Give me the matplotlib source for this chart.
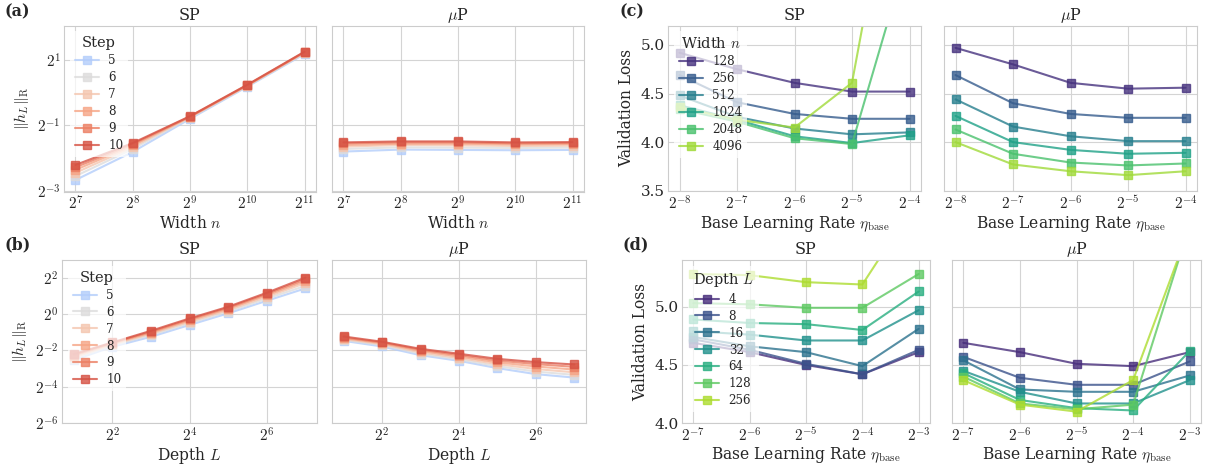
import numpy as np
import matplotlib
matplotlib.use("Agg")
import matplotlib.pyplot as plt
import seaborn as sns
from matplotlib.ticker import NullLocator

# ---------------- data ----------------
steps = [5, 6, 7, 8, 9, 10]
widths_a = [128, 256, 512, 1024, 2048]
depths_b = [2, 4, 8, 16, 32, 64, 128]

# log2 of ||h_L||_R, one row per step (5..10)
a_sp_log2 = [
    [-2.67, -1.81, -0.80, 0.18, 1.18],
    [-2.55, -1.72, -0.77, 0.20, 1.20],
    [-2.45, -1.66, -0.75, 0.21, 1.22],
    [-2.36, -1.61, -0.74, 0.22, 1.23],
    [-2.28, -1.57, -0.73, 0.23, 1.24],
    [-2.21, -1.54, -0.72, 0.24, 1.25],
]
a_mup_log2 = [
    [-1.80, -1.74, -1.75, -1.76, -1.75],
    [-1.72, -1.67, -1.68, -1.69, -1.68],
    [-1.65, -1.60, -1.61, -1.63, -1.62],
    [-1.60, -1.56, -1.56, -1.58, -1.57],
    [-1.55, -1.52, -1.52, -1.55, -1.54],
    [-1.52, -1.49, -1.49, -1.52, -1.51],
]
b_sp_log2 = [
    [-2.53, -1.80, -1.25, -0.60, 0.04, 0.73, 1.41],
    [-2.45, -1.72, -1.15, -0.50, 0.14, 0.85, 1.55],
    [-2.38, -1.67, -1.08, -0.42, 0.22, 0.95, 1.70],
    [-2.30, -1.62, -1.02, -0.35, 0.29, 1.04, 1.81],
    [-2.25, -1.59, -0.97, -0.29, 0.35, 1.11, 1.91],
    [-2.20, -1.56, -0.92, -0.24, 0.40, 1.17, 2.00],
]
b_mup_log2 = [
    [-1.47, -1.78, -2.26, -2.57, -2.97, -3.30, -3.49],
    [-1.42, -1.70, -2.18, -2.49, -2.86, -3.16, -3.34],
    [-1.37, -1.65, -2.10, -2.41, -2.75, -3.02, -3.20],
    [-1.32, -1.60, -2.02, -2.33, -2.65, -2.88, -3.05],
    [-1.28, -1.56, -1.96, -2.25, -2.55, -2.75, -2.90],
    [-1.23, -1.52, -1.91, -2.18, -2.46, -2.64, -2.77],
]

c_widths = [128, 256, 512, 1024, 2048, 4096]
c_lrs = [2**-8, 2**-7, 2**-6, 2**-5, 2**-4]
c_sp_loss = [
    [4.92, 4.75, 4.61, 4.52, 4.52],
    [4.69, 4.41, 4.29, 4.24, 4.24],
    [4.48, 4.26, 4.14, 4.08, 4.10],
    [4.38, 4.23, 4.06, 3.99, 4.07],
    [4.34, 4.21, 4.04, 3.98, 6.00],
    [4.36, 4.23, 4.15, 4.61, 7.80],
]
c_mup_loss = [
    [4.97, 4.80, 4.61, 4.55, 4.56],
    [4.69, 4.40, 4.29, 4.25, 4.25],
    [4.44, 4.16, 4.06, 4.01, 4.01],
    [4.27, 4.00, 3.92, 3.88, 3.89],
    [4.13, 3.88, 3.79, 3.76, 3.78],
    [4.00, 3.77, 3.70, 3.66, 3.70],
]

d_depths = [4, 8, 16, 32, 64, 128, 256]
d_lrs = [2**-7, 2**-6, 2**-5, 2**-4, 2**-3]
d_sp_loss = [
    [4.69, 4.61, 4.50, 4.42, 4.61],
    [4.72, 4.63, 4.51, 4.42, 4.63],
    [4.74, 4.66, 4.61, 4.49, 4.81],
    [4.79, 4.76, 4.71, 4.71, 4.97],
    [4.89, 4.86, 4.85, 4.80, 5.13],
    [5.03, 5.02, 4.99, 4.99, 5.28],
    [5.28, 5.27, 5.21, 5.19, 5.93],
]
d_mup_loss = [
    [4.69, 4.61, 4.51, 4.49, 4.61],
    [4.57, 4.39, 4.33, 4.33, 4.53],
    [4.54, 4.29, 4.27, 4.27, 4.41],
    [4.45, 4.27, 4.17, 4.17, 4.37],
    [4.43, 4.20, 4.13, 4.11, 4.62],
    [4.40, 4.17, 4.12, 4.16, 5.70],
    [4.37, 4.16, 4.10, 4.37, 5.68],
]

a_xticks = [2**7, 2**8, 2**9, 2**10, 2**11]
a_xticklabels = ["$2^{7}$", "$2^{8}$", "$2^{9}$", "$2^{10}$", "$2^{11}$"]
a_yticks = [2**-3, 2**-1, 2**1]
a_yticklabels = ["$2^{-3}$", "$2^{-1}$", "$2^{1}$"]
b_xticks = [2**2, 2**4, 2**6]
b_xticklabels = ["$2^{2}$", "$2^{4}$", "$2^{6}$"]
b_yticks = [2**-6, 2**-4, 2**-2, 2**0, 2**2]
b_yticklabels = ["$2^{-6}$", "$2^{-4}$", "$2^{-2}$", "$2^{0}$", "$2^{2}$"]
c_xticklabels = ["$2^{-8}$", "$2^{-7}$", "$2^{-6}$", "$2^{-5}$", "$2^{-4}$"]
c_yticks = [3.5, 4.0, 4.5, 5.0]
d_xticklabels = ["$2^{-7}$", "$2^{-6}$", "$2^{-5}$", "$2^{-4}$", "$2^{-3}$"]
d_yticks = [4.0, 4.5, 5.0]

# ---------------- style ----------------
sns.set_style("whitegrid")
plt.rcParams.update({
    "font.family": "serif",
    "font.serif": ["DejaVu Serif"],
    "mathtext.fontset": "cm",
    "font.size": 11,
    "axes.titlesize": 11.5,
    "axes.labelsize": 11.2,
    "xtick.labelsize": 11,
    "ytick.labelsize": 11,
    "legend.fontsize": 8.6,
    "legend.title_fontsize": 10.5,
    "axes.edgecolor": "0.8",
    "grid.color": "0.83",
})

step_colors = [plt.cm.coolwarm(p) for p in [0.36, 0.5, 0.62, 0.72, 0.81, 0.9]]
width_colors = sns.color_palette("viridis", 6)
depth_colors = sns.color_palette("viridis", 7)

W, H = 1205, 465
fig = plt.figure(figsize=(W / 100, H / 100), dpi=100)


def px_axes(left, right, top, bottom):
    return fig.add_axes([left / W, 1 - bottom / H, (right - left) / W, (bottom - top) / H])


LW, MS, AL = 1.5, 5.5, 0.8


def draw(ax, x, rows, colors, labels, logx=True):
    for r, c, lab in zip(rows, colors, labels):
        ax.plot(x, r, marker="s", color=c, lw=LW, ms=MS, alpha=AL, label=lab)
    if logx:
        ax.set_xscale("log", base=2)
    ax.xaxis.set_minor_locator(NullLocator())
    ax.tick_params(axis="both", length=0, pad=2.5)


def legend(ax, title):
    lg = ax.legend(title=title, loc="upper left", frameon=True, framealpha=0.7,
                   edgecolor="none", facecolor="white", labelspacing=0.33)
    return lg


# ---- (a) ----
ax = px_axes(64, 316, 25.5, 191.5)
draw(ax, widths_a, [np.exp2(r) for r in a_sp_log2], step_colors, [str(s) for s in steps])
ax.set_yscale("log", base=2)
ax.yaxis.set_minor_locator(NullLocator())
ax.set_ylim(2**-3.02, 2**2.05)
ax.set_xticks(a_xticks, a_xticklabels)
ax.set_yticks(a_yticks, a_yticklabels)
ax.set_title("SP", pad=4)
ax.set_xlabel("Width $n$", labelpad=1)
ax.set_ylabel(r"$\|h_L\|_{\rm R}$")
legend(ax, "Step")

ax = px_axes(332, 584, 25.5, 191.5)
draw(ax, widths_a, [np.exp2(r) for r in a_mup_log2], step_colors, [str(s) for s in steps])
ax.set_yscale("log", base=2)
ax.yaxis.set_minor_locator(NullLocator())
ax.set_ylim(2**-3.02, 2**2.05)
ax.set_xticks(a_xticks, a_xticklabels)
ax.set_yticks(a_yticks, a_yticklabels)
ax.tick_params(labelleft=False)
ax.set_title(r"$\mu$P", pad=4)
ax.set_xlabel("Width $n$", labelpad=1)

# ---- (b) ----
ax = px_axes(62, 317, 260, 423.3)
draw(ax, depths_b, [np.exp2(r) for r in b_sp_log2], step_colors, [str(s) for s in steps])
ax.set_yscale("log", base=2)
ax.yaxis.set_minor_locator(NullLocator())
ax.set_ylim(2**-6, 2**2.97)
ax.set_xticks(b_xticks, b_xticklabels)
ax.set_yticks(b_yticks, b_yticklabels)
ax.set_title("SP", pad=4)
ax.set_xlabel("Depth $L$", labelpad=0)
ax.set_ylabel(r"$\|h_L\|_{\rm R}$")
legend(ax, "Step")

ax = px_axes(332, 586, 260, 423.3)
draw(ax, depths_b, [np.exp2(r) for r in b_mup_log2], step_colors, [str(s) for s in steps])
ax.set_yscale("log", base=2)
ax.yaxis.set_minor_locator(NullLocator())
ax.set_ylim(2**-6, 2**2.97)
ax.set_xticks(b_xticks, b_xticklabels)
ax.set_yticks(b_yticks, b_yticklabels)
ax.tick_params(labelleft=False)
ax.set_title(r"$\mu$P", pad=4)
ax.set_xlabel("Depth $L$", labelpad=0)

# ---- (c) ----
ax = px_axes(668, 921, 25.5, 190.7)
draw(ax, c_lrs, c_sp_loss, width_colors, [str(w) for w in c_widths])
ax.set_ylim(3.5, 5.2)
ax.set_xticks(c_lrs, c_xticklabels)
ax.set_yticks(c_yticks)
ax.set_title("SP", pad=4)
ax.set_xlabel(r"Base Learning Rate $\eta_{\rm base}$", labelpad=1)
ax.set_ylabel("Validation Loss")
legend(ax, "Width $n$")

ax = px_axes(944, 1197, 25.5, 190.7)
draw(ax, c_lrs, c_mup_loss, width_colors, [str(w) for w in c_widths])
ax.set_ylim(3.5, 5.2)
ax.set_xticks(c_lrs, c_xticklabels)
ax.set_yticks(c_yticks)
ax.tick_params(labelleft=False)
ax.set_title(r"$\mu$P", pad=4)
ax.set_xlabel(r"Base Learning Rate $\eta_{\rm base}$", labelpad=1)

# ---- (d) ----
ax = px_axes(682, 930, 260, 423.3)
draw(ax, d_lrs, d_sp_loss, depth_colors, [str(d) for d in d_depths])
ax.set_ylim(4.0, 5.4)
ax.set_xticks(d_lrs, d_xticklabels)
ax.set_yticks(d_yticks)
ax.set_title("SP", pad=4)
ax.set_xlabel(r"Base Learning Rate $\eta_{\rm base}$", labelpad=0)
ax.set_ylabel("Validation Loss")
legend(ax, "Depth $L$")

ax = px_axes(952, 1201, 260, 423.3)
draw(ax, d_lrs, d_mup_loss, depth_colors, [str(d) for d in d_depths])
ax.set_ylim(4.0, 5.4)
ax.set_xticks(d_lrs, d_xticklabels)
ax.set_yticks(d_yticks)
ax.tick_params(labelleft=False)
ax.set_title(r"$\mu$P", pad=4)
ax.set_xlabel(r"Base Learning Rate $\eta_{\rm base}$", labelpad=0)

# panel labels
for txt, x, y in [("(a)", 5, 12), ("(b)", 5, 245), ("(c)", 620, 12), ("(d)", 622, 245)]:
    fig.text(x / W, 1 - y / H, txt, fontsize=11.5, fontweight="bold", va="center", ha="left")

fig.savefig("out.png", dpi=100)
